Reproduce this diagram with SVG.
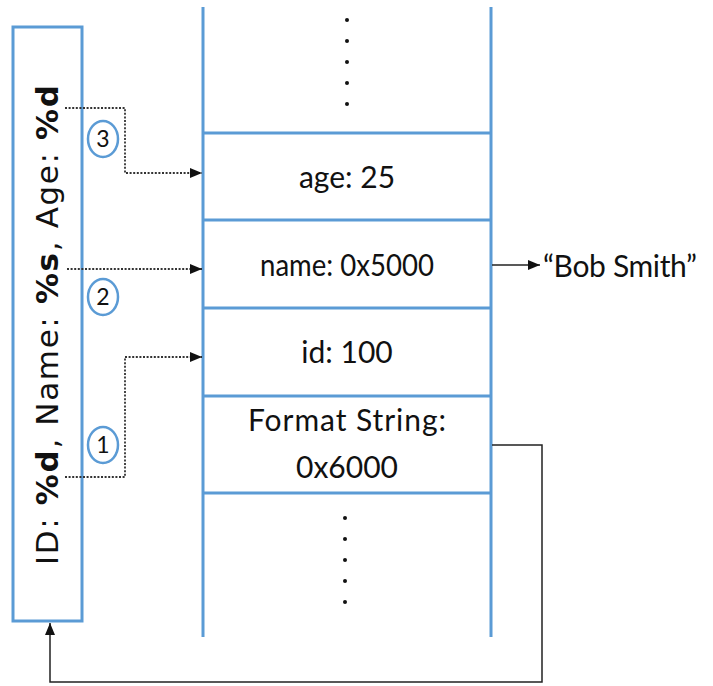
<svg xmlns="http://www.w3.org/2000/svg" width="713" height="686" viewBox="0 0 713 686">
<style>
.blue{stroke:#5b9bd5;stroke-width:3;fill:none}
.lbl{font-family:Lato,"Open Sans",sans-serif;font-size:30px;fill:#111;text-anchor:middle}
.rot{font-family:"DejaVu Sans","Noto Sans",sans-serif;font-size:31px;fill:#111;text-anchor:middle}
.dot{fill:#111}
.dash{stroke:#333;stroke-width:1.8;stroke-dasharray:2 1.6;fill:none}
.solid{stroke:#222;stroke-width:1.5;fill:none}
.circ{stroke:#5b9bd5;stroke-width:2.5;fill:#fff}
.num{font-family:Lato,"Open Sans",sans-serif;font-size:23px;fill:#111;text-anchor:middle}
</style>
<defs>
<marker id="ah" viewBox="0 0 12 10" refX="12" refY="5" markerWidth="12" markerHeight="10" markerUnits="userSpaceOnUse" orient="auto">
<path d="M0,0 L12,5 L0,10 z" fill="#111"/>
</marker>
</defs>
<rect width="713" height="686" fill="#fff"/>
<g id="stack">
<line class="blue" x1="203" y1="7" x2="203" y2="637"/>
<line class="blue" x1="491" y1="7" x2="491" y2="637"/>
<line class="blue" x1="203" y1="133" x2="491" y2="133"/>
<line class="blue" x1="203" y1="220" x2="491" y2="220"/>
<line class="blue" x1="203" y1="308" x2="491" y2="308"/>
<line class="blue" x1="203" y1="396" x2="491" y2="396"/>
<line class="blue" x1="203" y1="493" x2="491" y2="493"/>
</g>
<g id="dots-top">
<circle class="dot" cx="347" cy="20" r="2"/>
<circle class="dot" cx="347" cy="41" r="2"/>
<circle class="dot" cx="347" cy="62" r="2"/>
<circle class="dot" cx="347" cy="83" r="2"/>
<circle class="dot" cx="347" cy="104" r="2"/>
</g>
<g id="dots-bottom">
<circle class="dot" cx="345" cy="518" r="2"/>
<circle class="dot" cx="345" cy="539" r="2"/>
<circle class="dot" cx="345" cy="560" r="2"/>
<circle class="dot" cx="345" cy="581" r="2"/>
<circle class="dot" cx="345" cy="602" r="2"/>
</g>
<g id="age"><text class="lbl" x="347" y="188">age: 25</text></g>
<g id="name"><text class="lbl" x="347" y="276" textLength="174" lengthAdjust="spacingAndGlyphs">name: 0x5000</text></g>
<g id="id"><text class="lbl" x="347" y="363">id: 100</text></g>
<g id="fmt">
<text class="lbl" x="347" y="431" textLength="198">Format String:</text>
<text class="lbl" x="347" y="478">0x6000</text>
</g>
<g id="bob"><text class="lbl" x="543" y="277" style="text-anchor:start" textLength="154">“Bob Smith”</text></g>
<g id="fmtbox">
<rect class="blue" x="13" y="27" width="69" height="594"/>
<text class="rot" transform="translate(58,325) rotate(-90)" textLength="480">ID: <tspan font-weight="bold">%d</tspan>, Name: <tspan font-weight="bold">%s</tspan>, Age: <tspan font-weight="bold">%d</tspan></text>
</g>
<g id="connectors">
<path class="dash" d="M65,108 H125 V173 H202" marker-end="url(#ah)"/>
<path class="dash" d="M67,269 H202" marker-end="url(#ah)"/>
<path class="dash" d="M65,477 H125 V357 H202" marker-end="url(#ah)"/>
<path class="solid" d="M492,265 H540" marker-end="url(#ah)"/>
<path class="solid" d="M492,445 H542 V682 H50 V623" marker-end="url(#ah)"/>
</g>
<g id="badges">
<ellipse class="circ" cx="103" cy="139" rx="15" ry="18"/>
<text class="num" x="103" y="147">3</text>
<ellipse class="circ" cx="103" cy="297" rx="15" ry="18"/>
<text class="num" x="103" y="305">2</text>
<ellipse class="circ" cx="103" cy="445" rx="15" ry="18"/>
<text class="num" x="103" y="453">1</text>
</g>
</svg>
